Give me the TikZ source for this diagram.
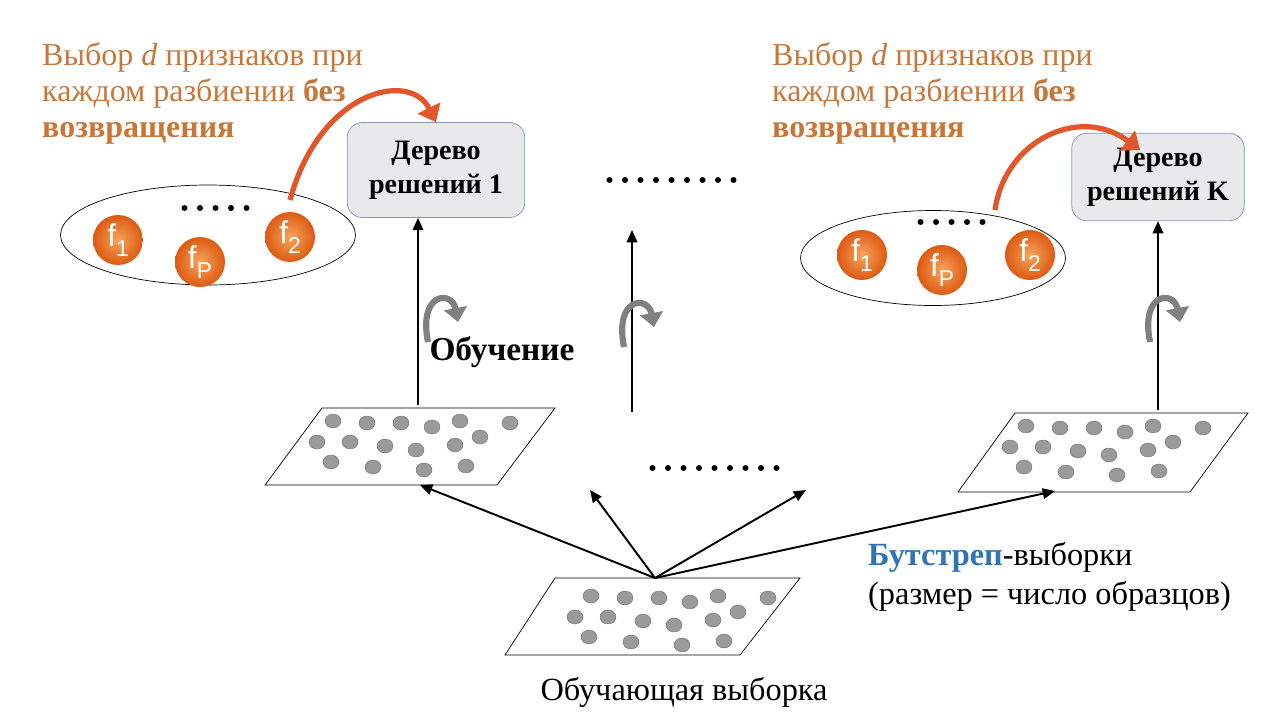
\documentclass[tikz,border=0pt]{standalone}
\usepackage{fontspec}
\setmainfont{Liberation Serif}
\newfontfamily\ballfont{Liberation Sans}
\usetikzlibrary{arrows.meta,shapes.geometric,calc}
\definecolor{selColor}{HTML}{C8773A}
\definecolor{bootColor}{HTML}{2E75B6}
\definecolor{treeFill}{HTML}{E9E9EC}
\definecolor{treeDraw}{HTML}{8496B0}
\definecolor{ptColor}{HTML}{9A9A9A}
\definecolor{pickColor}{HTML}{E0572B}
\definecolor{ballIn}{HTML}{F7A45C}
\definecolor{ballOut}{HTML}{DD5A12}
\tikzset{
	tree/.style={draw=treeDraw, fill=treeFill, rounded corners=3mm, align=center, font=\bfseries\fontsize{16}{19.5}\selectfont},
	feat/.style={circle, minimum size=1cm, inner sep=0, shading=radial, inner color=ballIn, outer color=ballOut, text=white, font=\ballfont\fontsize{18}{18}\selectfont},
	plate/.style={draw, fill=white, thin},
	pt/.style={fill=ptColor, draw=gray!80!black, very thin},
	spin/.style={draw=gray, line width=3.5pt, -{Triangle[length=8pt,width=13pt]}},
	pick/.style={draw=pickColor, line width=3pt, -{Triangle[length=9pt,width=14pt]}},
	link/.style={->, line width=1.1pt, >={Triangle[length=7pt,width=6pt]}},
	pts/.pic={
		\foreach \px/\py in {11/13,45/15,79/15,110/19,138/13,188/15,-5/34,28/34,63/38,94/42,133/37,158/29,9/54,51/59,102/62,144/58}
			\path[pt] (\px,\py) ellipse (8 and 7);
	},
	dotline/.pic={
		\foreach \k in {1,...,#1}
			\fill (\k*15.5,0) circle (3);
	}
}
\newcommand{\fsub}[2]{#1\raisebox{-0.55ex}{\fontsize{13}{13}\selectfont #2}}

\begin{document}
\begin{tikzpicture}[x=0.02cm, y=-0.02cm, >=Triangle]
	\useasboundingbox (0,0) rectangle (1280,720);
	% left tree
	\node[align=left, text=selColor, anchor=north west, font=\fontsize{18.2}{20.5}\selectfont] (selL) at (36,36) {Выбор \textit{d} признаков при\\каждом разбиении \textbf{без}\\\textbf{возвращения}};
	\node[tree, minimum width=3.55cm, minimum height=1.9cm] (tree1) at (436,170) {Дерево\\решений 1};
	\node[draw, ellipse, minimum width=5.9cm, minimum height=2cm] (setL) at (208,235) {};
	\node[feat] (f1L) at (118,240) {\fsub{f}{1}};
	\node[feat] (fpL) at (200,262) {\fsub{f}{P}};
	\node[feat] (f2L) at (290,237) {\fsub{f}{2}};
	\pic at (169,208) {dotline=5};
	\path[pick] (290,200) .. controls (320,90) and (410,70) .. (tree1.north);
	% middle
	\pic at (594,180) {dotline=9};
	\pic at (637,468) {dotline=9};
	% right tree
	\node[align=left, text=selColor, anchor=north west, font=\fontsize{18.2}{20.5}\selectfont] (selR) at (766,36) {Выбор \textit{d} признаков при\\каждом разбиении \textbf{без}\\\textbf{возвращения}};
	\node[tree, minimum width=3.45cm, minimum height=1.75cm] (treeK) at (1158,177) {Дерево\\решений K};
	\node[draw, ellipse, minimum width=5.3cm, minimum height=1.9cm] (setR) at (933,258) {};
	\node[feat] (f1R) at (862,255) {\fsub{f}{1}};
	\node[feat] (fpR) at (942,270) {\fsub{f}{P}};
	\node[feat] (f2R) at (1030,255) {\fsub{f}{2}};
	\pic at (905,222) {dotline=5};
	\path[pick] (995,210) .. controls (1005,140) and (1080,105) .. (1140,150);
	% samples
	\path[plate] (322,408) -- (555,408) -- (497,485) -- (265,485) -- cycle;
	\pic at (322,408) {pts};
	\path[plate] (1015,413) -- (1248,413) -- (1190,492) -- (958,492) -- cycle;
	\pic at (1015,413) {pts};
	\path[plate] (555,578) -- (800,578) -- (740,655) -- (505,655) -- cycle;
	\pic at (580,583) {pts};
	\coordinate (root) at (655,578);
	\coordinate (s1) at (418,405);
	\coordinate (s2) at (632,412);
	\coordinate (s3) at (1158,410);
	\coordinate (up2) at (632,230);
	\draw[link] (root) -- (420,485);
	\draw[link] (root) -- (590,490);
	\draw[link] (root) -- (806,490);
	\draw[link] (root) -- (1055,491);
	\draw[link] (s1) -- (s1 |- tree1.south);
	\draw[link] (s2) -- (up2);
	\draw[link] (s3) -- (treeK.south);
	% training spins
	\path[spin] (428,342) .. controls (418,292) and (452,290) .. (458,322);
	\path[spin] (624,347) .. controls (614,297) and (648,295) .. (654,327);
	\path[spin] (1150,342) .. controls (1140,292) and (1174,290) .. (1180,322);
	\node[font=\bfseries\fontsize{19}{22}\selectfont] (learn) at (502,352) {Обучение};
	\node[anchor=west, align=left, font=\fontsize{18.4}{22}\selectfont] (boot) at (862,577) {\textcolor{bootColor}{\textbf{Бутстреп}}-выборки\\(размер = число образцов)};
	\node[font=\fontsize{18.4}{22}\selectfont] (train) at (684,692) {Обучающая выборка};
\end{tikzpicture}
\end{document}
